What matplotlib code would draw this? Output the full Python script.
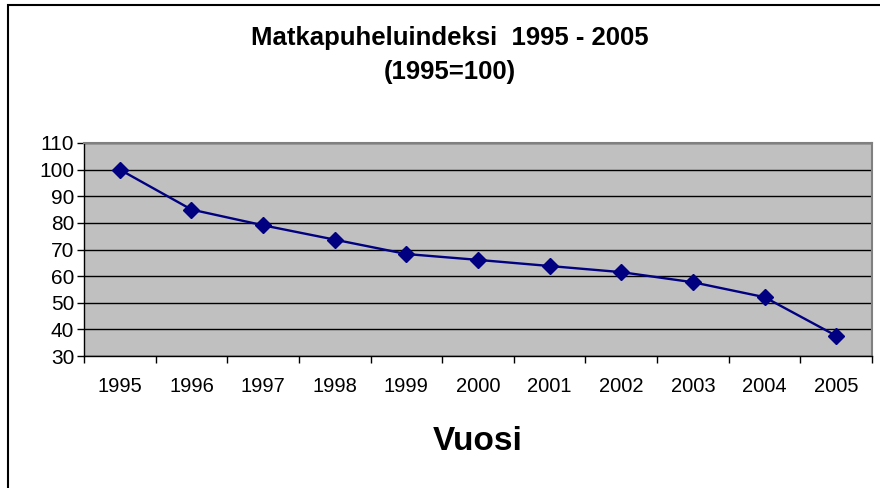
import matplotlib
matplotlib.use("Agg")
import matplotlib.pyplot as plt
from matplotlib.patches import Rectangle
import numpy as np

years = ["1995", "1996", "1997", "1998", "1999", "2000", "2001", "2002", "2003", "2004", "2005"]
index_values = [100, 85.0, 79.1, 73.7, 68.3, 66.1, 63.8, 61.5, 57.7, 52.1, 37.6]
y_ticks = [30, 40, 50, 60, 70, 80, 90, 100, 110]

plt.rcParams['font.family'] = ['Liberation Sans', 'DejaVu Sans']

fig = plt.figure(figsize=(8.8, 4.88), dpi=100)
# outer chart frame (left/top visible; right/bottom cropped)
fig.patches.append(Rectangle((8/880, -0.1), 1.2, (488-5)/488 + 0.1, transform=fig.transFigure,
                             fill=False, edgecolor='black', linewidth=1.5, clip_on=False))

ax = fig.add_axes([84/880, 1-356/488, (872-84)/880, (356-143)/488])
ax.set_facecolor('#c0c0c0')

x = np.arange(len(years))
ax.plot(x, index_values, color='#000080', linewidth=1.7, marker='D', markersize=8.5,
        markerfacecolor='#000080', markeredgecolor='#000080', zorder=3)

ax.set_xlim(-0.5, len(years) - 0.5)
ax.set_ylim(30, 110)
ax.set_yticks(y_ticks)
ax.set_yticklabels([str(v) for v in y_ticks], fontsize=15)
ax.yaxis.grid(True, color='black', linewidth=1.0)
ax.set_axisbelow(True)

ax.set_xticks(x)
ax.set_xticklabels(years, fontsize=14.5)
ax.set_xticks(np.arange(-0.5, len(years)), minor=True)
ax.tick_params(axis='x', which='major', length=0, pad=15)
ax.tick_params(axis='x', which='minor', length=5, width=1, direction='out')
ax.tick_params(axis='y', which='major', length=5, width=1, direction='out', pad=2)

for side in ['top', 'right']:
    ax.spines[side].set_color('#808080')
    ax.spines[side].set_linewidth(1.5)
for side in ['left', 'bottom']:
    ax.spines[side].set_color('black')
    ax.spines[side].set_linewidth(1.0)

ax.set_xlabel('Vuosi', fontsize=24, fontweight='bold', labelpad=22)

fig.text(450/880, 1-38/488, 'Matkapuheluindeksi  1995 - 2005', ha='center', va='center',
         fontsize=18.5, fontweight='bold')
fig.text(450/880, 1-72/488, '(1995=100)', ha='center', va='center',
         fontsize=18.5, fontweight='bold')

fig.savefig('out.png', dpi=100)
